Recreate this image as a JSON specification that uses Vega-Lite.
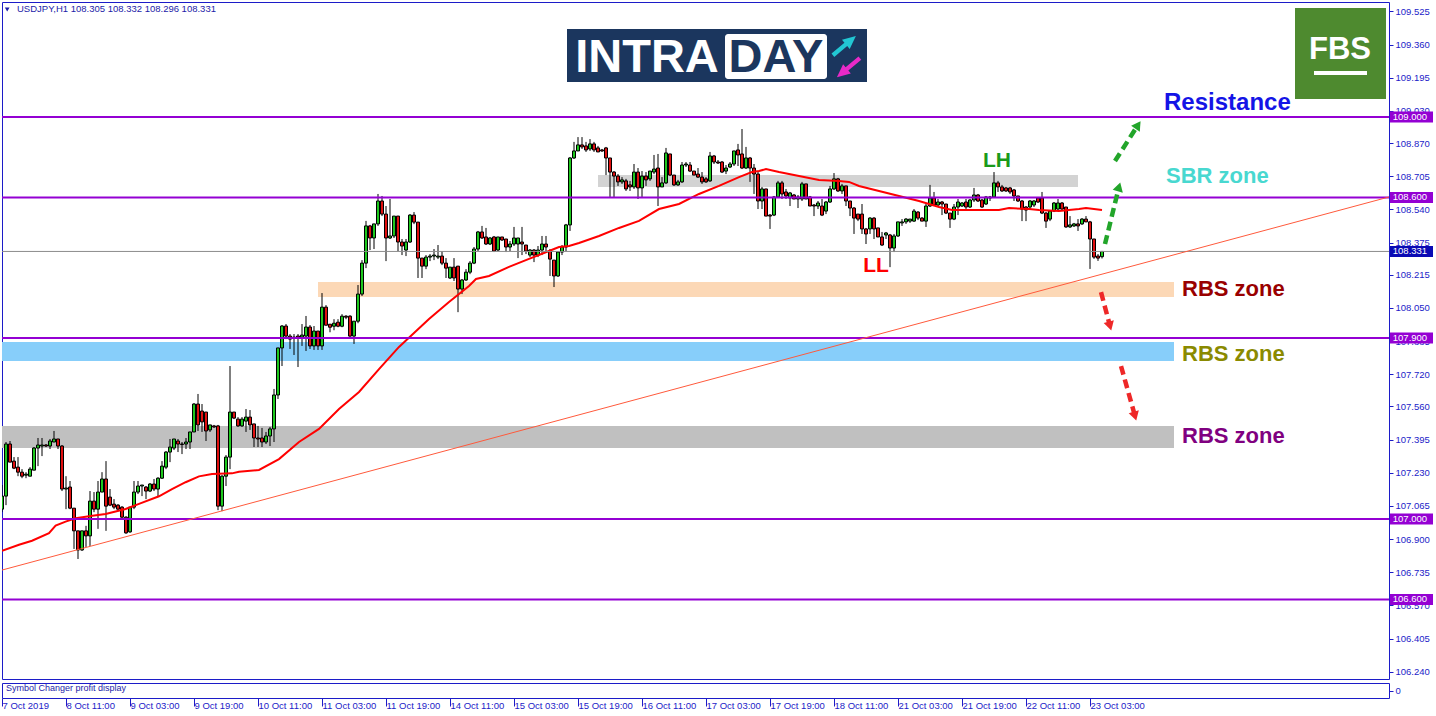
{
"$schema": "https://vega.github.io/schema/vega-lite/v6.json",
"background": "white",
"padding": {"left": 1, "top": 1, "right": 0, "bottom": 0},
"spacing": 2,
"config": {"view": {"stroke": "#1c1cc8", "strokeWidth": 1}, "font": "Liberation Sans", "axis": {"grid": false}, "scale": {"continuousPadding": 0}},
"datasets": {
"candles": [
{"i":0,"o":107.049,"h":107.169,"l":107.034,"c":107.114},
{"i":1,"o":107.114,"h":107.383,"l":107.069,"c":107.373},
{"i":2,"o":107.373,"h":107.388,"l":107.283,"c":107.283},
{"i":3,"o":107.288,"h":107.308,"l":107.248,"c":107.253},
{"i":4,"o":107.258,"h":107.308,"l":107.213,"c":107.233},
{"i":5,"o":107.233,"h":107.248,"l":107.203,"c":107.213},
{"i":6,"o":107.218,"h":107.233,"l":107.203,"c":107.223},
{"i":7,"o":107.213,"h":107.258,"l":107.213,"c":107.248},
{"i":8,"o":107.243,"h":107.358,"l":107.243,"c":107.353},
{"i":9,"o":107.353,"h":107.403,"l":107.263,"c":107.368},
{"i":10,"o":107.363,"h":107.403,"l":107.313,"c":107.368},
{"i":11,"o":107.368,"h":107.373,"l":107.358,"c":107.363},
{"i":12,"o":107.363,"h":107.398,"l":107.348,"c":107.388},
{"i":13,"o":107.383,"h":107.438,"l":107.383,"c":107.398},
{"i":14,"o":107.398,"h":107.398,"l":107.348,"c":107.363},
{"i":15,"o":107.363,"h":107.368,"l":107.139,"c":107.149},
{"i":16,"o":107.149,"h":107.213,"l":107.049,"c":107.154},
{"i":17,"o":107.159,"h":107.189,"l":107.049,"c":107.054},
{"i":18,"o":107.054,"h":107.054,"l":106.851,"c":106.941},
{"i":19,"o":106.941,"h":106.941,"l":106.801,"c":106.846},
{"i":20,"o":106.846,"h":106.941,"l":106.841,"c":106.941},
{"i":21,"o":106.941,"h":106.966,"l":106.861,"c":106.916},
{"i":22,"o":106.916,"h":107.139,"l":106.866,"c":107.089},
{"i":23,"o":107.089,"h":107.134,"l":107.034,"c":107.049},
{"i":24,"o":107.049,"h":107.189,"l":106.951,"c":107.134},
{"i":25,"o":107.134,"h":107.233,"l":107.134,"c":107.199},
{"i":26,"o":107.199,"h":107.288,"l":106.941,"c":107.064},
{"i":27,"o":107.109,"h":107.149,"l":107.064,"c":107.069},
{"i":28,"o":107.074,"h":107.099,"l":107.049,"c":107.059},
{"i":29,"o":107.069,"h":107.074,"l":107.039,"c":107.049},
{"i":30,"o":107.059,"h":107.064,"l":106.999,"c":107.009},
{"i":31,"o":107.009,"h":107.014,"l":106.926,"c":106.931},
{"i":32,"o":106.936,"h":107.059,"l":106.931,"c":107.059},
{"i":33,"o":107.059,"h":107.189,"l":107.049,"c":107.134},
{"i":34,"o":107.134,"h":107.189,"l":107.124,"c":107.164},
{"i":35,"o":107.164,"h":107.169,"l":107.114,"c":107.169},
{"i":36,"o":107.159,"h":107.164,"l":107.099,"c":107.139},
{"i":37,"o":107.139,"h":107.179,"l":107.134,"c":107.174},
{"i":38,"o":107.174,"h":107.199,"l":107.139,"c":107.149},
{"i":39,"o":107.149,"h":107.208,"l":107.109,"c":107.203},
{"i":40,"o":107.203,"h":107.288,"l":107.199,"c":107.263},
{"i":41,"o":107.258,"h":107.338,"l":107.248,"c":107.333},
{"i":42,"o":107.333,"h":107.398,"l":107.283,"c":107.358},
{"i":43,"o":107.353,"h":107.398,"l":107.343,"c":107.398},
{"i":44,"o":107.388,"h":107.398,"l":107.333,"c":107.373},
{"i":45,"o":107.373,"h":107.383,"l":107.323,"c":107.371},
{"i":46,"o":107.373,"h":107.403,"l":107.348,"c":107.383},
{"i":47,"o":107.383,"h":107.433,"l":107.348,"c":107.433},
{"i":48,"o":107.433,"h":107.577,"l":107.433,"c":107.572},
{"i":49,"o":107.572,"h":107.622,"l":107.438,"c":107.468},
{"i":50,"o":107.537,"h":107.572,"l":107.433,"c":107.483},
{"i":51,"o":107.532,"h":107.532,"l":107.388,"c":107.438},
{"i":52,"o":107.443,"h":107.468,"l":107.433,"c":107.468},
{"i":53,"o":107.463,"h":107.468,"l":107.453,"c":107.458},
{"i":54,"o":107.463,"h":107.468,"l":107.044,"c":107.064},
{"i":55,"o":107.064,"h":107.218,"l":107.039,"c":107.213},
{"i":56,"o":107.213,"h":107.318,"l":107.164,"c":107.308},
{"i":57,"o":107.308,"h":107.761,"l":107.248,"c":107.532},
{"i":58,"o":107.532,"h":107.532,"l":107.497,"c":107.502},
{"i":59,"o":107.497,"h":107.507,"l":107.458,"c":107.463},
{"i":60,"o":107.463,"h":107.507,"l":107.458,"c":107.497},
{"i":61,"o":107.487,"h":107.547,"l":107.433,"c":107.507},
{"i":62,"o":107.507,"h":107.542,"l":107.443,"c":107.468},
{"i":63,"o":107.473,"h":107.473,"l":107.358,"c":107.403},
{"i":64,"o":107.403,"h":107.463,"l":107.358,"c":107.398},
{"i":65,"o":107.403,"h":107.453,"l":107.358,"c":107.383},
{"i":66,"o":107.383,"h":107.433,"l":107.373,"c":107.413},
{"i":67,"o":107.413,"h":107.458,"l":107.363,"c":107.448},
{"i":68,"o":107.448,"h":107.647,"l":107.383,"c":107.617},
{"i":69,"o":107.617,"h":107.851,"l":107.597,"c":107.851},
{"i":70,"o":107.851,"h":107.965,"l":107.761,"c":107.960},
{"i":71,"o":107.960,"h":107.970,"l":107.895,"c":107.910},
{"i":72,"o":107.910,"h":107.920,"l":107.846,"c":107.895},
{"i":73,"o":107.905,"h":107.920,"l":107.816,"c":107.900},
{"i":74,"o":107.910,"h":107.920,"l":107.756,"c":107.900},
{"i":75,"o":107.905,"h":107.970,"l":107.861,"c":107.915},
{"i":76,"o":107.910,"h":108.010,"l":107.836,"c":107.955},
{"i":77,"o":107.955,"h":107.965,"l":107.846,"c":107.861},
{"i":78,"o":107.861,"h":107.960,"l":107.841,"c":107.935},
{"i":79,"o":107.935,"h":107.935,"l":107.841,"c":107.861},
{"i":80,"o":107.861,"h":108.124,"l":107.841,"c":108.054},
{"i":81,"o":108.054,"h":108.064,"l":107.964,"c":107.964},
{"i":82,"o":107.969,"h":107.969,"l":107.929,"c":107.954},
{"i":83,"o":107.959,"h":107.994,"l":107.939,"c":107.974},
{"i":84,"o":107.979,"h":107.994,"l":107.954,"c":107.959},
{"i":85,"o":107.959,"h":108.019,"l":107.954,"c":108.009},
{"i":86,"o":108.009,"h":108.014,"l":107.994,"c":108.004},
{"i":87,"o":108.009,"h":108.014,"l":107.900,"c":107.910},
{"i":88,"o":107.910,"h":107.984,"l":107.871,"c":107.984},
{"i":89,"o":107.984,"h":108.164,"l":107.974,"c":108.119},
{"i":90,"o":108.119,"h":108.288,"l":108.109,"c":108.273},
{"i":91,"o":108.273,"h":108.483,"l":108.248,"c":108.458},
{"i":92,"o":108.458,"h":108.463,"l":108.338,"c":108.398},
{"i":93,"o":108.398,"h":108.468,"l":108.343,"c":108.468},
{"i":94,"o":108.468,"h":108.617,"l":108.458,"c":108.582},
{"i":95,"o":108.582,"h":108.607,"l":108.507,"c":108.517},
{"i":96,"o":108.517,"h":108.557,"l":108.283,"c":108.398},
{"i":97,"o":108.398,"h":108.592,"l":108.393,"c":108.408},
{"i":98,"o":108.408,"h":108.507,"l":108.398,"c":108.507},
{"i":99,"o":108.507,"h":108.507,"l":108.333,"c":108.378},
{"i":100,"o":108.378,"h":108.393,"l":108.313,"c":108.358},
{"i":101,"o":108.338,"h":108.393,"l":108.308,"c":108.378},
{"i":102,"o":108.378,"h":108.517,"l":108.373,"c":108.512},
{"i":103,"o":108.512,"h":108.527,"l":108.467,"c":108.477},
{"i":104,"o":108.477,"h":108.477,"l":108.199,"c":108.298},
{"i":105,"o":108.298,"h":108.298,"l":108.199,"c":108.258},
{"i":106,"o":108.258,"h":108.313,"l":108.243,"c":108.303},
{"i":107,"o":108.303,"h":108.318,"l":108.283,"c":108.308},
{"i":108,"o":108.308,"h":108.343,"l":108.288,"c":108.313},
{"i":109,"o":108.303,"h":108.363,"l":108.293,"c":108.308},
{"i":110,"o":108.308,"h":108.333,"l":108.263,"c":108.273},
{"i":111,"o":108.273,"h":108.298,"l":108.199,"c":108.248},
{"i":112,"o":108.199,"h":108.253,"l":108.194,"c":108.253},
{"i":113,"o":108.253,"h":108.298,"l":108.184,"c":108.199},
{"i":114,"o":108.258,"h":108.258,"l":108.029,"c":108.144},
{"i":115,"o":108.144,"h":108.194,"l":108.119,"c":108.189},
{"i":116,"o":108.189,"h":108.243,"l":108.184,"c":108.228},
{"i":117,"o":108.228,"h":108.283,"l":108.218,"c":108.273},
{"i":118,"o":108.273,"h":108.353,"l":108.268,"c":108.343},
{"i":119,"o":108.343,"h":108.433,"l":108.333,"c":108.428},
{"i":120,"o":108.428,"h":108.458,"l":108.393,"c":108.398},
{"i":121,"o":108.403,"h":108.448,"l":108.363,"c":108.368},
{"i":122,"o":108.368,"h":108.403,"l":108.363,"c":108.398},
{"i":123,"o":108.403,"h":108.408,"l":108.328,"c":108.333},
{"i":124,"o":108.338,"h":108.403,"l":108.333,"c":108.403},
{"i":125,"o":108.403,"h":108.403,"l":108.383,"c":108.388},
{"i":126,"o":108.393,"h":108.393,"l":108.328,"c":108.353},
{"i":127,"o":108.353,"h":108.383,"l":108.333,"c":108.368},
{"i":128,"o":108.368,"h":108.453,"l":108.358,"c":108.398},
{"i":129,"o":108.368,"h":108.398,"l":108.298,"c":108.398},
{"i":130,"o":108.378,"h":108.453,"l":108.313,"c":108.368},
{"i":131,"o":108.363,"h":108.363,"l":108.318,"c":108.333},
{"i":132,"o":108.313,"h":108.343,"l":108.303,"c":108.338},
{"i":133,"o":108.338,"h":108.343,"l":108.278,"c":108.313},
{"i":134,"o":108.313,"h":108.358,"l":108.303,"c":108.338},
{"i":135,"o":108.338,"h":108.408,"l":108.313,"c":108.368},
{"i":136,"o":108.368,"h":108.408,"l":108.333,"c":108.353},
{"i":137,"o":108.333,"h":108.343,"l":108.209,"c":108.293},
{"i":138,"o":108.288,"h":108.288,"l":108.154,"c":108.209},
{"i":139,"o":108.209,"h":108.333,"l":108.204,"c":108.328},
{"i":140,"o":108.328,"h":108.363,"l":108.313,"c":108.353},
{"i":141,"o":108.353,"h":108.468,"l":108.333,"c":108.463},
{"i":142,"o":108.463,"h":108.801,"l":108.433,"c":108.796},
{"i":143,"o":108.796,"h":108.876,"l":108.791,"c":108.831},
{"i":144,"o":108.831,"h":108.900,"l":108.831,"c":108.861},
{"i":145,"o":108.861,"h":108.900,"l":108.841,"c":108.851},
{"i":146,"o":108.856,"h":108.876,"l":108.826,"c":108.836},
{"i":147,"o":108.841,"h":108.890,"l":108.831,"c":108.866},
{"i":148,"o":108.866,"h":108.876,"l":108.826,"c":108.836},
{"i":149,"o":108.846,"h":108.856,"l":108.826,"c":108.826},
{"i":150,"o":108.836,"h":108.841,"l":108.826,"c":108.831},
{"i":151,"o":108.846,"h":108.851,"l":108.711,"c":108.796},
{"i":152,"o":108.796,"h":108.796,"l":108.602,"c":108.726},
{"i":153,"o":108.726,"h":108.731,"l":108.602,"c":108.706},
{"i":154,"o":108.706,"h":108.716,"l":108.657,"c":108.677},
{"i":155,"o":108.677,"h":108.701,"l":108.667,"c":108.687},
{"i":156,"o":108.682,"h":108.692,"l":108.632,"c":108.642},
{"i":157,"o":108.662,"h":108.682,"l":108.632,"c":108.652},
{"i":158,"o":108.652,"h":108.766,"l":108.642,"c":108.726},
{"i":159,"o":108.726,"h":108.746,"l":108.592,"c":108.647},
{"i":160,"o":108.647,"h":108.731,"l":108.602,"c":108.706},
{"i":161,"o":108.706,"h":108.726,"l":108.657,"c":108.687},
{"i":162,"o":108.692,"h":108.731,"l":108.682,"c":108.731},
{"i":163,"o":108.726,"h":108.811,"l":108.716,"c":108.741},
{"i":164,"o":108.746,"h":108.816,"l":108.557,"c":108.652},
{"i":165,"o":108.652,"h":108.701,"l":108.652,"c":108.672},
{"i":166,"o":108.672,"h":108.846,"l":108.667,"c":108.821},
{"i":167,"o":108.816,"h":108.816,"l":108.706,"c":108.711},
{"i":168,"o":108.711,"h":108.711,"l":108.657,"c":108.662},
{"i":169,"o":108.662,"h":108.687,"l":108.657,"c":108.677},
{"i":170,"o":108.677,"h":108.776,"l":108.672,"c":108.761},
{"i":171,"o":108.761,"h":108.776,"l":108.751,"c":108.766},
{"i":172,"o":108.761,"h":108.776,"l":108.726,"c":108.731},
{"i":173,"o":108.731,"h":108.731,"l":108.711,"c":108.711},
{"i":174,"o":108.716,"h":108.746,"l":108.697,"c":108.701},
{"i":175,"o":108.701,"h":108.726,"l":108.667,"c":108.677},
{"i":176,"o":108.692,"h":108.701,"l":108.672,"c":108.677},
{"i":177,"o":108.682,"h":108.826,"l":108.677,"c":108.806},
{"i":178,"o":108.806,"h":108.811,"l":108.766,"c":108.776},
{"i":179,"o":108.776,"h":108.786,"l":108.766,"c":108.771},
{"i":180,"o":108.776,"h":108.781,"l":108.721,"c":108.726},
{"i":181,"o":108.731,"h":108.761,"l":108.716,"c":108.746},
{"i":182,"o":108.751,"h":108.776,"l":108.746,"c":108.766},
{"i":183,"o":108.766,"h":108.831,"l":108.756,"c":108.831},
{"i":184,"o":108.836,"h":108.866,"l":108.756,"c":108.811},
{"i":185,"o":108.816,"h":108.940,"l":108.741,"c":108.746},
{"i":186,"o":108.746,"h":108.851,"l":108.741,"c":108.796},
{"i":187,"o":108.796,"h":108.801,"l":108.677,"c":108.746},
{"i":188,"o":108.746,"h":108.766,"l":108.617,"c":108.716},
{"i":189,"o":108.716,"h":108.726,"l":108.542,"c":108.582},
{"i":190,"o":108.582,"h":108.652,"l":108.542,"c":108.642},
{"i":191,"o":108.642,"h":108.642,"l":108.507,"c":108.507},
{"i":192,"o":108.512,"h":108.517,"l":108.443,"c":108.507},
{"i":193,"o":108.512,"h":108.607,"l":108.507,"c":108.602},
{"i":194,"o":108.602,"h":108.682,"l":108.602,"c":108.672},
{"i":195,"o":108.672,"h":108.682,"l":108.592,"c":108.617},
{"i":196,"o":108.627,"h":108.642,"l":108.592,"c":108.607},
{"i":197,"o":108.597,"h":108.627,"l":108.557,"c":108.622},
{"i":198,"o":108.612,"h":108.617,"l":108.592,"c":108.592},
{"i":199,"o":108.592,"h":108.612,"l":108.547,"c":108.602},
{"i":200,"o":108.592,"h":108.677,"l":108.582,"c":108.667},
{"i":201,"o":108.667,"h":108.667,"l":108.592,"c":108.592},
{"i":202,"o":108.602,"h":108.607,"l":108.557,"c":108.557},
{"i":203,"o":108.562,"h":108.567,"l":108.507,"c":108.557},
{"i":204,"o":108.557,"h":108.582,"l":108.542,"c":108.572},
{"i":205,"o":108.557,"h":108.592,"l":108.507,"c":108.512},
{"i":206,"o":108.532,"h":108.582,"l":108.517,"c":108.577},
{"i":207,"o":108.577,"h":108.657,"l":108.572,"c":108.642},
{"i":208,"o":108.642,"h":108.721,"l":108.637,"c":108.692},
{"i":209,"o":108.692,"h":108.697,"l":108.627,"c":108.632},
{"i":210,"o":108.632,"h":108.667,"l":108.617,"c":108.657},
{"i":211,"o":108.657,"h":108.657,"l":108.557,"c":108.582},
{"i":212,"o":108.582,"h":108.582,"l":108.507,"c":108.547},
{"i":213,"o":108.547,"h":108.552,"l":108.418,"c":108.497},
{"i":214,"o":108.517,"h":108.517,"l":108.482,"c":108.492},
{"i":215,"o":108.517,"h":108.567,"l":108.418,"c":108.443},
{"i":216,"o":108.443,"h":108.448,"l":108.368,"c":108.418},
{"i":217,"o":108.443,"h":108.502,"l":108.418,"c":108.497},
{"i":218,"o":108.497,"h":108.502,"l":108.393,"c":108.443},
{"i":219,"o":108.448,"h":108.448,"l":108.403,"c":108.403},
{"i":220,"o":108.403,"h":108.428,"l":108.358,"c":108.363},
{"i":221,"o":108.413,"h":108.428,"l":108.393,"c":108.423},
{"i":222,"o":108.413,"h":108.418,"l":108.253,"c":108.348},
{"i":223,"o":108.348,"h":108.418,"l":108.328,"c":108.408},
{"i":224,"o":108.408,"h":108.478,"l":108.403,"c":108.478},
{"i":225,"o":108.473,"h":108.492,"l":108.458,"c":108.478},
{"i":226,"o":108.478,"h":108.497,"l":108.468,"c":108.492},
{"i":227,"o":108.482,"h":108.492,"l":108.473,"c":108.492},
{"i":228,"o":108.482,"h":108.542,"l":108.478,"c":108.532},
{"i":229,"o":108.527,"h":108.532,"l":108.487,"c":108.497},
{"i":230,"o":108.497,"h":108.502,"l":108.482,"c":108.482},
{"i":231,"o":108.482,"h":108.567,"l":108.453,"c":108.557},
{"i":232,"o":108.557,"h":108.662,"l":108.552,"c":108.597},
{"i":233,"o":108.597,"h":108.627,"l":108.557,"c":108.562},
{"i":234,"o":108.562,"h":108.592,"l":108.557,"c":108.577},
{"i":235,"o":108.577,"h":108.582,"l":108.512,"c":108.567},
{"i":236,"o":108.567,"h":108.567,"l":108.517,"c":108.522},
{"i":237,"o":108.522,"h":108.522,"l":108.448,"c":108.492},
{"i":238,"o":108.492,"h":108.567,"l":108.487,"c":108.552},
{"i":239,"o":108.552,"h":108.592,"l":108.512,"c":108.577},
{"i":240,"o":108.557,"h":108.577,"l":108.552,"c":108.572},
{"i":241,"o":108.577,"h":108.592,"l":108.542,"c":108.552},
{"i":242,"o":108.552,"h":108.592,"l":108.547,"c":108.587},
{"i":243,"o":108.587,"h":108.647,"l":108.577,"c":108.612},
{"i":244,"o":108.612,"h":108.617,"l":108.577,"c":108.582},
{"i":245,"o":108.587,"h":108.592,"l":108.547,"c":108.552},
{"i":246,"o":108.567,"h":108.607,"l":108.562,"c":108.602},
{"i":247,"o":108.602,"h":108.607,"l":108.582,"c":108.597},
{"i":248,"o":108.602,"h":108.726,"l":108.597,"c":108.672},
{"i":249,"o":108.672,"h":108.682,"l":108.627,"c":108.652},
{"i":250,"o":108.652,"h":108.662,"l":108.627,"c":108.632},
{"i":251,"o":108.647,"h":108.652,"l":108.627,"c":108.632},
{"i":252,"o":108.647,"h":108.652,"l":108.617,"c":108.627},
{"i":253,"o":108.637,"h":108.642,"l":108.582,"c":108.607},
{"i":254,"o":108.607,"h":108.607,"l":108.577,"c":108.582},
{"i":255,"o":108.582,"h":108.587,"l":108.482,"c":108.542},
{"i":256,"o":108.552,"h":108.557,"l":108.482,"c":108.537},
{"i":257,"o":108.552,"h":108.587,"l":108.542,"c":108.582},
{"i":258,"o":108.562,"h":108.587,"l":108.552,"c":108.582},
{"i":259,"o":108.597,"h":108.602,"l":108.572,"c":108.577},
{"i":260,"o":108.597,"h":108.627,"l":108.517,"c":108.522},
{"i":261,"o":108.522,"h":108.527,"l":108.448,"c":108.482},
{"i":262,"o":108.492,"h":108.537,"l":108.482,"c":108.532},
{"i":263,"o":108.532,"h":108.577,"l":108.527,"c":108.572},
{"i":264,"o":108.542,"h":108.592,"l":108.532,"c":108.572},
{"i":265,"o":108.572,"h":108.577,"l":108.532,"c":108.542},
{"i":266,"o":108.552,"h":108.552,"l":108.448,"c":108.453},
{"i":267,"o":108.453,"h":108.507,"l":108.448,"c":108.463},
{"i":268,"o":108.458,"h":108.473,"l":108.453,"c":108.468},
{"i":269,"o":108.468,"h":108.492,"l":108.433,"c":108.458},
{"i":270,"o":108.468,"h":108.497,"l":108.463,"c":108.492},
{"i":271,"o":108.492,"h":108.507,"l":108.478,"c":108.478},
{"i":272,"o":108.478,"h":108.483,"l":108.244,"c":108.393},
{"i":273,"o":108.393,"h":108.393,"l":108.294,"c":108.303},
{"i":274,"o":108.308,"h":108.318,"l":108.284,"c":108.298},
{"i":275,"o":108.305,"h":108.332,"l":108.296,"c":108.331}
],
"ma": [
{"i":0,"m":106.842},{"i":4.25,"m":106.872},{"i":7.5,"m":106.892},{"i":11.75,"m":106.930},{"i":13.4,"m":106.967},{"i":15.9,"m":106.987},{"i":18.4,"m":107.004},{"i":22.6,"m":107.016},{"i":25.9,"m":107.025},{"i":30.9,"m":107.050},{"i":34.25,"m":107.075},{"i":39.25,"m":107.113},{"i":42.5,"m":107.149},{"i":45.9,"m":107.183},{"i":49.25,"m":107.212},{"i":52.5,"m":107.224},{"i":57.5,"m":107.227},{"i":59.25,"m":107.235},{"i":64.25,"m":107.244},{"i":69.25,"m":107.298},{"i":74.25,"m":107.383},{"i":79.25,"m":107.448},{"i":84.25,"m":107.547},{"i":89.25,"m":107.632},{"i":94.25,"m":107.746},{"i":99.25,"m":107.856},{"i":106.75,"m":107.995},{"i":111.75,"m":108.080},{"i":116.75,"m":108.159},{"i":118.5,"m":108.194},{"i":121.75,"m":108.209},{"i":126.75,"m":108.254},{"i":131.75,"m":108.294},{"i":136.75,"m":108.333},{"i":139.25,"m":108.353},{"i":141.75,"m":108.358},{"i":144.25,"m":108.373},{"i":149.25,"m":108.408},{"i":154.25,"m":108.448},{"i":159.25,"m":108.483},{"i":164.25,"m":108.542},{"i":169.25,"m":108.567},{"i":174.25,"m":108.617},{"i":179.25,"m":108.657},{"i":184.25,"m":108.701},{"i":187.5,"m":108.726},{"i":189.25,"m":108.731},{"i":191,"m":108.741},{"i":194.25,"m":108.726},{"i":199.25,"m":108.706},{"i":204.25,"m":108.687},{"i":209.25,"m":108.682},{"i":211.75,"m":108.677},{"i":214.25,"m":108.657},{"i":219.25,"m":108.632},{"i":224.25,"m":108.607},{"i":229.25,"m":108.582},{"i":234.25,"m":108.552},{"i":237.5,"m":108.537},{"i":242.5,"m":108.537},{"i":249.25,"m":108.537},{"i":251.75,"m":108.547},{"i":256.75,"m":108.542},{"i":259.25,"m":108.537},{"i":264.25,"m":108.532},{"i":269.25,"m":108.542},{"i":271,"m":108.547},{"i":275,"m":108.537}
],
"levels": [{"p":109.0,"k":"lvl"},{"p":108.6,"k":"lvl"},{"p":107.9,"k":"lvl"},{"p":107.0,"k":"lvl"},{"p":106.6,"k":"lvl"},{"p":108.331,"k":"cur"}],
"zones": [
{"zone":"SBR","i1":149,"i2":269,"p1":108.711,"p2":108.652},
{"zone":"RBS1","i1":79,"i2":293,"p1":108.179,"p2":108.104},
{"zone":"RBS2","i1":0,"i2":293,"p1":107.880,"p2":107.786},
{"zone":"RBS3","i1":0,"i2":293,"p1":107.463,"p2":107.353}
],
"arrows": [
{"id":"g1","dir":"up","i1":275.75,"p1":108.368,"i2":279.25,"p2":108.652},
{"id":"g2","dir":"up","i1":278.25,"p1":108.781,"i2":284,"p2":108.960},
{"id":"r1","dir":"down","i1":274.75,"p1":108.129,"i2":277,"p2":107.960},
{"id":"r2","dir":"down","i1":279.75,"p1":107.761,"i2":283.25,"p2":107.512}
],
"notes": [
{"id":"sbr","t":"SBR zone","i":291,"p":108.706},
{"id":"rbs1","t":"RBS zone","i":295,"p":108.144},
{"id":"rbs2","t":"RBS zone","i":295,"p":107.821},
{"id":"rbs3","t":"RBS zone","i":295,"p":107.413}
],
"swings": [
{"id":"LH","t":"LH","i":248.75,"p":108.781},
{"id":"LL","t":"LL","i":218.5,"p":108.259}
]
},
"vconcat": [
{
"width": 1387, "height": 677,
"resolve": {"scale": {"color": "independent", "fill": "independent", "stroke": "independent"}},
"layer": [
{"data": {"name": "zones"}, "mark": {"type": "rect", "clip": true},
 "encoding": {
  "x": {"field": "i1", "type": "quantitative", "scale": {"domain": [0, 346.75], "nice": false, "zero": false, "padding": 0}, "axis": null},
  "x2": {"field": "i2"},
  "y": {"field": "p1", "type": "quantitative", "scale": {"domain": [106.204, 109.572], "nice": false, "zero": false, "padding": 0},
   "axis": {"orient": "right", "title": null, "values": [109.525,109.36,109.195,109.03,108.87,108.705,108.54,108.375,108.215,108.05,107.885,107.72,107.56,107.395,107.23,107.065,106.9,106.735,106.57,106.405,106.24], "tickCount": 40, "format": ".3f", "domain": false, "grid": false, "ticks": true, "tickSize": 4, "tickColor": "#1c1cc8", "labelColor": "#1c1cc8", "labelFontSize": 9.5, "labelFont": "Liberation Sans", "labelPadding": 2, "labelOverlap": false, "labelFlush": false}},
  "y2": {"field": "p2"},
  "fill": {"field": "zone", "type": "nominal", "scale": {"domain": ["SBR","RBS1","RBS2","RBS3"], "range": ["#d3d3d3","#fcd8b6","#87cefa","#c0c0c0"]}, "legend": null}
 }},
{"data": {"name": "candles"}, "mark": {"type": "rule", "color": "#000000", "strokeWidth": 1, "clip": true},
 "encoding": {"x": {"field": "i", "type": "quantitative", "axis": null}, "y": {"field": "l", "type": "quantitative"}, "y2": {"field": "h"}}},
{"data": {"name": "candles"}, "mark": {"type": "bar", "size": 3, "stroke": "#000000", "strokeWidth": 1, "clip": true},
 "encoding": {"x": {"field": "i", "type": "quantitative", "axis": null}, "y": {"field": "o", "type": "quantitative"}, "y2": {"field": "c"},
  "color": {"condition": {"test": "datum.c >= datum.o", "value": "#1ec81e"}, "value": "#e01010"}}},
{"data": {"name": "ma"}, "mark": {"type": "line", "color": "#ff0000", "strokeWidth": 2, "clip": true},
 "encoding": {"x": {"field": "i", "type": "quantitative", "axis": null}, "y": {"field": "m", "type": "quantitative"}}},
{"data": {"name": "levels"}, "mark": {"type": "rule", "clip": true},
 "encoding": {"y": {"field": "p", "type": "quantitative"},
  "stroke": {"field": "k", "type": "nominal", "scale": {"domain": ["lvl","cur"], "range": ["#9400d3","#8c8c8c"]}, "legend": null},
  "strokeWidth": {"condition": {"test": "datum.k == 'lvl'", "value": 2}, "value": 1}}},
{"data": {"values": [{"i1": 0, "p1": 106.746, "i2": 346.75, "p2": 108.602}]}, "mark": {"type": "rule", "color": "#ff5a3c", "strokeWidth": 1, "clip": true},
 "encoding": {"x": {"field": "i1", "type": "quantitative", "axis": null}, "y": {"field": "p1", "type": "quantitative"}, "x2": {"field": "i2"}, "y2": {"field": "p2"}}},
{"data": {"name": "arrows"}, "mark": {"type": "rule", "strokeWidth": 4.5, "strokeDash": [9, 5]},
 "encoding": {"x": {"field": "i1", "type": "quantitative", "axis": null}, "y": {"field": "p1", "type": "quantitative"}, "x2": {"field": "i2"}, "y2": {"field": "p2"},
  "stroke": {"field": "dir", "type": "nominal", "scale": {"domain": ["up","down"], "range": ["#22a52a","#ee2828"]}, "legend": null}}},
{"data": {"name": "arrows"}, "mark": {"type": "point", "shape": "triangle-up", "filled": true, "size": 110, "opacity": 1},
 "encoding": {"x": {"field": "i2", "type": "quantitative", "axis": null}, "y": {"field": "p2", "type": "quantitative"},
  "fill": {"field": "dir", "type": "nominal", "scale": {"domain": ["up","down"], "range": ["#22a52a","#ee2828"]}, "legend": null},
  "angle": {"condition": [{"test": "datum.id == 'g1'", "value": 16}, {"test": "datum.id == 'g2'", "value": 34}], "value": 164}}},
{"data": {"values": [{"t": "Resistance"}]}, "mark": {"type": "text", "align": "left", "baseline": "middle", "fontSize": 24, "fontWeight": "bold", "font": "Liberation Sans", "color": "#1414e6"},
 "encoding": {"x": {"datum": 290.5, "type": "quantitative", "axis": null}, "y": {"datum": 109.070, "type": "quantitative"}, "text": {"field": "t"}}},
{"data": {"name": "notes"}, "mark": {"type": "text", "align": "left", "baseline": "middle", "fontSize": 22, "fontWeight": "bold", "font": "Liberation Sans"},
 "encoding": {"x": {"field": "i", "type": "quantitative", "axis": null}, "y": {"field": "p", "type": "quantitative"}, "text": {"field": "t"},
  "color": {"field": "id", "type": "nominal", "scale": {"domain": ["sbr","rbs1","rbs2","rbs3"], "range": ["#48d8d0","#990000","#8a8a00","#800080"]}, "legend": null}}},
{"data": {"name": "swings"}, "mark": {"type": "text", "align": "center", "baseline": "middle", "fontSize": 21, "fontWeight": "bold", "font": "Liberation Sans"},
 "encoding": {"x": {"field": "i", "type": "quantitative", "axis": null}, "y": {"field": "p", "type": "quantitative"}, "text": {"field": "t"},
  "fill": {"field": "id", "type": "nominal", "scale": {"domain": ["LH","LL"], "range": ["#1a9a1a","#ff0000"]}, "legend": null}}},
{"data": {"values": [{"t": "USDJPY,H1  108.305 108.332 108.296 108.331"}]}, "mark": {"type": "text", "align": "left", "baseline": "middle", "fontSize": 9.5, "color": "#1c1ca8"},
 "encoding": {"x": {"datum": 3.75, "type": "quantitative", "axis": null}, "y": {"datum": 109.537, "type": "quantitative"}, "text": {"field": "t"}}},
{"data": {"values": [{}]}, "mark": {"type": "point", "shape": "triangle-down", "filled": true, "size": 22, "color": "#1c1ca8", "opacity": 1},
 "encoding": {"x": {"datum": 1.3, "type": "quantitative", "axis": null}, "y": {"datum": 109.535, "type": "quantitative"}}},
{"data": {"values": [{}]}, "mark": {"type": "rect", "color": "#1b365e"},
 "encoding": {"x": {"datum": 141.25, "type": "quantitative", "axis": null}, "x2": {"datum": 216.25}, "y": {"datum": 109.438, "type": "quantitative"}, "y2": {"datum": 109.174}}},
{"data": {"values": [{}]}, "mark": {"type": "rect", "color": "#ffffff", "cornerRadius": 3},
 "encoding": {"x": {"datum": 180.75, "type": "quantitative", "axis": null}, "x2": {"datum": 206.25}, "y": {"datum": 109.413, "type": "quantitative"}, "y2": {"datum": 109.189}}},
{"data": {"values": [{"t": "INTRA"}]}, "mark": {"type": "text", "align": "left", "baseline": "middle", "fontSize": 47, "fontWeight": "bold", "color": "#ffffff", "font": "Liberation Sans", "dy": 2},
 "encoding": {"x": {"datum": 143.3, "type": "quantitative", "axis": null}, "y": {"datum": 109.303, "type": "quantitative"}, "text": {"field": "t"}}},
{"data": {"values": [{"t": "DAY"}]}, "mark": {"type": "text", "align": "center", "baseline": "middle", "fontSize": 47, "fontWeight": "bold", "color": "#1b365e", "font": "Liberation Sans", "dy": 2},
 "encoding": {"x": {"datum": 193.5, "type": "quantitative", "axis": null}, "y": {"datum": 109.303, "type": "quantitative"}, "text": {"field": "t"}}},
{"data": {"values": [{}]}, "mark": {"type": "point", "shape": "arrow", "filled": true, "size": 900, "angle": 50, "color": "#22c7d3", "opacity": 1},
 "encoding": {"x": {"datum": 210.6, "type": "quantitative", "axis": null}, "y": {"datum": 109.355, "type": "quantitative"}}},
{"data": {"values": [{}]}, "mark": {"type": "point", "shape": "arrow", "filled": true, "size": 900, "angle": 230, "color": "#e82ac8", "opacity": 1},
 "encoding": {"x": {"datum": 211.6, "type": "quantitative", "axis": null}, "y": {"datum": 109.245, "type": "quantitative"}}},
{"data": {"values": [{}]}, "mark": {"type": "rect", "color": "#4e8a2f"},
 "encoding": {"x": {"datum": 323.25, "type": "quantitative", "axis": null}, "x2": {"datum": 346}, "y": {"datum": 109.542, "type": "quantitative"}, "y2": {"datum": 109.089}}},
{"data": {"values": [{"t": "FBS"}]}, "mark": {"type": "text", "align": "center", "baseline": "middle", "fontSize": 31, "fontWeight": "bold", "color": "#ffffff", "font": "Liberation Sans"},
 "encoding": {"x": {"datum": 334.5, "type": "quantitative", "axis": null}, "y": {"datum": 109.333, "type": "quantitative"}, "text": {"field": "t"}}},
{"data": {"values": [{}]}, "mark": {"type": "rect", "color": "#ffffff"},
 "encoding": {"x": {"datum": 328, "type": "quantitative", "axis": null}, "x2": {"datum": 341.25}, "y": {"datum": 109.229, "type": "quantitative"}, "y2": {"datum": 109.209}}},
{"data": {"name": "levels"}, "mark": {"type": "bar", "size": 11, "orient": "horizontal"},
 "encoding": {"x": {"datum": 347, "type": "quantitative", "axis": null}, "x2": {"datum": 357.75}, "y": {"field": "p", "type": "quantitative"},
  "color": {"field": "k", "type": "nominal", "scale": {"domain": ["lvl","cur"], "range": ["#9400d3","#0a0ab4"]}, "legend": null}}},
{"data": {"name": "levels"}, "mark": {"type": "text", "align": "left", "baseline": "middle", "fontSize": 9.5, "color": "#ffffff", "font": "Liberation Sans"},
 "encoding": {"x": {"datum": 347.7, "type": "quantitative", "axis": null}, "y": {"field": "p", "type": "quantitative"}, "text": {"field": "p", "type": "quantitative", "format": ".3f"}}}
]
},
{
"width": 1387, "height": 15,
"layer": [
{"data": {"values": [{"t": "Symbol Changer profit display"}]}, "mark": {"type": "text", "align": "left", "baseline": "middle", "fontSize": 9, "color": "#1c1ca8"},
 "encoding": {
  "x": {"datum": 1, "type": "quantitative", "scale": {"domain": [0, 346.75], "nice": false, "zero": false, "padding": 0},
   "axis": {"orient": "bottom", "title": null, "values": [0,16,32,48,64,80,96,112,128,144,160,176,192,208,224,240,256,272], "tickCount": 40,
    "labelExpr": "['7 Oct 2019','8 Oct 11:00','9 Oct 03:00','9 Oct 19:00','10 Oct 11:00','11 Oct 03:00','11 Oct 19:00','14 Oct 11:00','15 Oct 03:00','15 Oct 19:00','16 Oct 11:00','17 Oct 03:00','17 Oct 19:00','18 Oct 11:00','21 Oct 03:00','21 Oct 19:00','22 Oct 11:00','23 Oct 03:00'][round(datum.value/16)]",
    "domain": false, "grid": false, "tickSize": 8, "tickColor": "#1c1cc8", "labelColor": "#1c1cc8", "labelFontSize": 9.5, "labelFont": "Liberation Sans", "labelAlign": "left", "labelBaseline": "top", "labelPadding": -6, "labelDx": 3, "labelFlush": false, "labelOverlap": false}},
  "y": {"datum": 0.3, "type": "quantitative", "scale": {"domain": [-1, 1], "nice": false, "zero": false, "padding": 0},
   "axis": {"orient": "right", "title": null, "values": [0], "format": "d", "domain": false, "grid": false, "tickSize": 4, "tickColor": "#1c1cc8", "labelColor": "#1c1cc8", "labelFontSize": 9.5, "labelPadding": 2}},
  "text": {"field": "t"}}}
]
}
]
}
